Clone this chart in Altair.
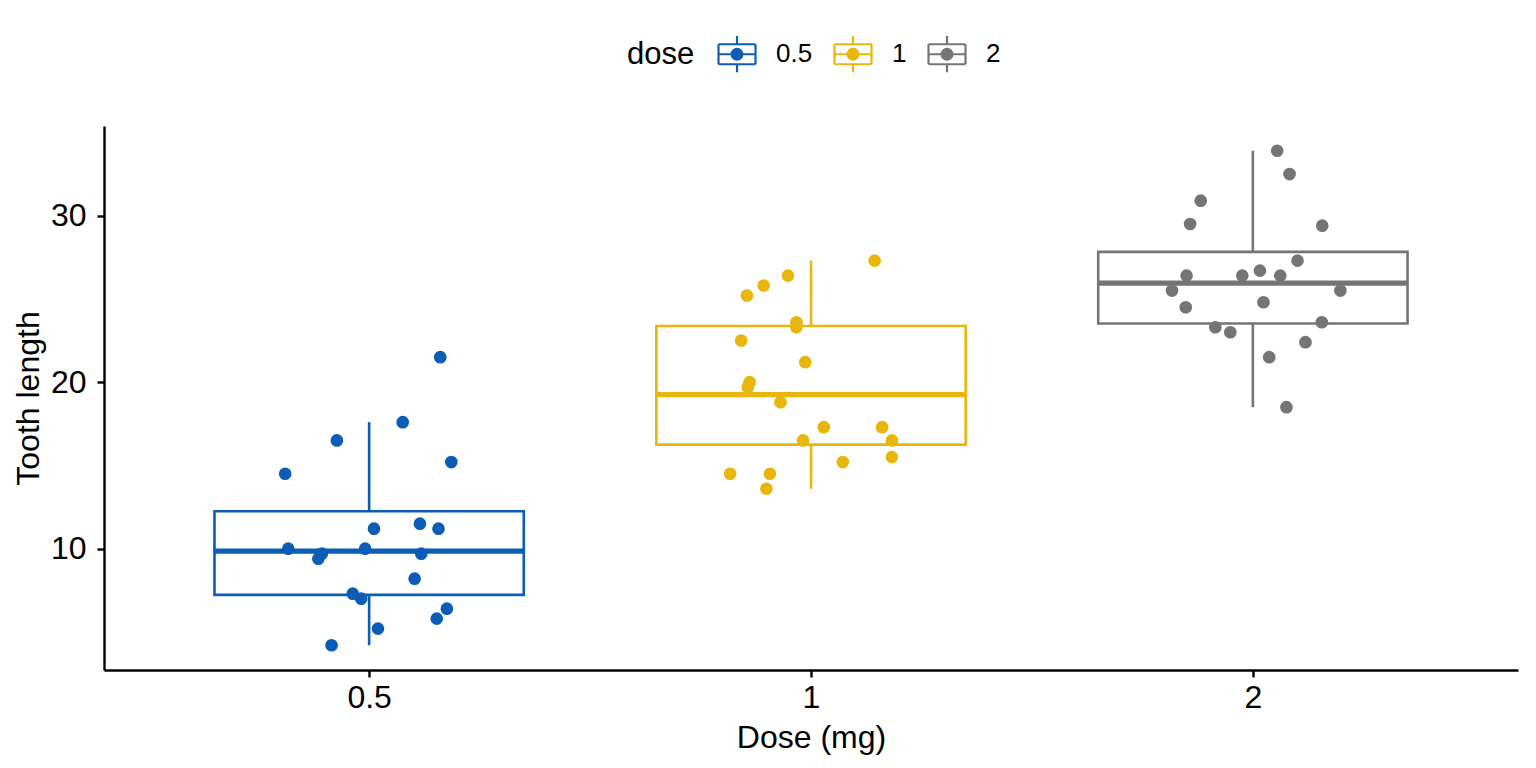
import altair as alt
import pandas as pd
import numpy as np

# ---- data (ToothGrowth: tooth length by dose) ----
doses = ["0.5", "1", "2"]
positions = [1, 2, 3]
colors = ["#0C5DB6", "#E8B60C", "#757575"]

len_05 = [21.5, 17.6, 16.5, 15.2, 14.5, 11.5, 11.2, 11.2, 10.0, 10.0,
          9.7, 9.7, 9.4, 8.2, 7.3, 7.0, 6.4, 5.8, 5.2, 4.2]
jit_05 = [0.161, 0.076, -0.073, 0.186, -0.190, 0.115, 0.011, 0.157, -0.183, -0.009,
          -0.107, 0.118, -0.115, 0.103, -0.037, -0.018, 0.176, 0.153, 0.020, -0.085]

len_1 = [27.3, 26.4, 25.8, 25.2, 23.6, 23.3, 22.5, 21.2, 20.0, 19.7,
         18.8, 17.3, 17.3, 16.5, 16.5, 15.5, 15.2, 14.5, 14.5, 13.6]
jit_1 = [0.144, -0.052, -0.107, -0.145, -0.033, -0.033, -0.158, -0.013, -0.139, -0.143,
         -0.069, 0.029, 0.161, -0.018, 0.183, 0.183, 0.072, -0.183, -0.093, -0.101]

len_2 = [33.9, 32.5, 30.9, 29.5, 29.4, 27.3, 26.7, 26.4, 26.4, 26.4,
         25.5, 25.5, 24.8, 24.5, 23.6, 23.3, 23.0, 22.4, 21.5, 18.5]
jit_2 = [0.055, 0.083, -0.118, -0.142, 0.157, 0.101, 0.016, -0.150, -0.024, 0.062,
         -0.183, 0.198, 0.024, -0.152, 0.156, -0.085, -0.051, 0.119, 0.037, 0.076]

groups = [len_05, len_1, len_2]
jitters = [jit_05, jit_1, jit_2]
box_half = 0.35

# ---- tables ----
pt_rows = []
box_rows = []
for d, p, c, vals, jit in zip(doses, positions, colors, groups, jitters):
    for v, j in zip(vals, jit):
        pt_rows.append({"dose": d, "x": p + j, "len": v})
    a = np.array(vals)
    q1, med, q3 = np.percentile(a, [25, 50, 75])
    iqr = q3 - q1
    lo = a[a >= q1 - 1.5 * iqr].min()
    hi = a[a <= q3 + 1.5 * iqr].max()
    box_rows.append({"dose": d, "col": c, "pos": p, "left": p - box_half,
                     "right": p + box_half, "q1": q1, "med": med, "q3": q3,
                     "lo": lo, "hi": hi})
pts = pd.DataFrame(pt_rows)
box = pd.DataFrame(box_rows)

FONT = "Liberation Sans"
xscale = alt.Scale(domain=[0.4, 3.6], nice=False, zero=False)
yscale = alt.Scale(domain=[2.715, 35.385], nice=False, zero=False)
cscale = alt.Scale(domain=doses, range=colors)

xaxis = alt.Axis(values=positions, title="Dose (mg)", labelPadding=5, titlePadding=9,
                 labelExpr="datum.value == 1 ? '0.5' : (datum.value == 2 ? '1' : '2')")
yaxis = alt.Axis(values=[10, 20, 30], title="Tooth length", labelPadding=11, titlePadding=5)

legend_symbol = ("M-1,-0.54L1,-0.54M1,-0.54L1,0.54M1,0.54L-1,0.54M-1,0.54L-1,-0.54"
                 "M-1,0L1,0M0,-0.54L0,-0.98M0,0.54L0,0.98"
                 "M-0.29,0A0.29,0.29,0,1,0,0.29,0A0.29,0.29,0,1,0,-0.29,0Z")

leg = alt.Legend(
    title="dose", orient="none", direction="horizontal",
    legendX=523, legendY=-92, titleOrient="left",
    titleAnchor="middle", titleBaseline="middle",
    titleFontSize=31, titleFont=FONT, titleFontWeight="normal", titleColor="black",
    titlePadding=22,
    labelFontSize=26, labelFont=FONT, labelColor="black", labelOffset=19,
    symbolType=legend_symbol, symbolSize=1369, symbolStrokeWidth=2.2,
    columnPadding=17,
)

base_box = alt.Chart(box)
col_enc = alt.Color("col:N", scale=None)

rect = base_box.mark_rect(filled=False, strokeWidth=2.6).encode(
    x=alt.X("left:Q", scale=xscale, axis=xaxis),
    x2="right:Q",
    y=alt.Y("q1:Q", scale=yscale, axis=yaxis),
    y2="q3:Q",
    color=col_enc,
)
whisk_lo = base_box.mark_rule(strokeWidth=2.6).encode(
    x=alt.X("pos:Q", scale=xscale), y=alt.Y("lo:Q", scale=yscale), y2="q1:Q",
    color=col_enc,
)
whisk_hi = base_box.mark_rule(strokeWidth=2.6).encode(
    x=alt.X("pos:Q", scale=xscale), y=alt.Y("q3:Q", scale=yscale), y2="hi:Q",
    color=col_enc,
)
median = base_box.mark_rule(strokeWidth=5.2).encode(
    x=alt.X("left:Q", scale=xscale), x2="right:Q", y=alt.Y("med:Q", scale=yscale),
    color=col_enc,
)
points = alt.Chart(pts).mark_point(filled=True, size=110, strokeWidth=2.2, opacity=1).encode(
    x=alt.X("x:Q", scale=xscale),
    y=alt.Y("len:Q", scale=yscale),
    fill=alt.Fill("dose:N", scale=cscale, legend=leg),
    stroke=alt.Stroke("dose:N", scale=cscale, legend=leg),
)

chart = alt.layer(rect, whisk_lo, whisk_hi, median, points).properties(
    width=1414, height=544,
    autosize=alt.AutoSizeParams(type="none"),
    padding={"left": 104, "top": 126, "right": 18, "bottom": 98},
).configure_view(stroke=None).configure_axis(
    grid=False, domainColor="black", domainWidth=2.4, tickColor="black", tickWidth=2.4,
    tickSize=7, labelFont=FONT, labelFontSize=32, labelColor="black",
    titleFont=FONT, titleFontSize=32, titleFontWeight="normal", titleColor="black",
)

chart.save("out.html", embed_options={"renderer": "svg", "actions": False})
